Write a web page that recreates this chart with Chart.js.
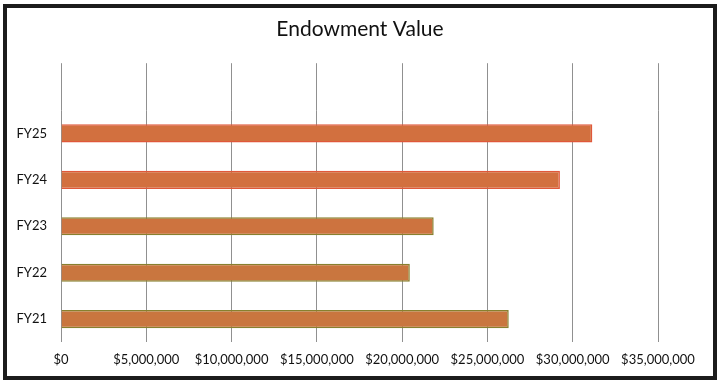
<!DOCTYPE html>
<html>
<head>
<meta charset="utf-8">
<script src="https://cdn.jsdelivr.net/npm/chart.js@4"></script>
<style>
  html, body { margin: 0; padding: 0; background: #fff; }
  #wrap { position: relative; width: 720px; height: 384px; overflow: hidden; }
  #frame { position: absolute; left: 3px; top: 4px; width: 706px; height: 368px; border: 4px solid #1c1c1c; box-sizing: content-box; }
  #chartCanvas { position: absolute; left: 0; top: 0; }
</style>
</head>
<body>
<div id="wrap">
  <div id="frame"></div>
  <canvas id="chartCanvas" width="720" height="384"></canvas>
</div>
<script>
// --- data ---
const years = ["FY25", "FY24", "FY23", "FY22", "FY21"];
const endowment = [31150000, 29250000, 21850000, 20450000, 26250000];
const axisMin = 0;
const axisMax = 35000000;
const axisStep = 5000000;

// bar colours (top two look redder at the edge, the rest olive-edged in the scan)
const barFill = ["#D2703F", "#D2703F", "#CD733F", "#C9763F", "#C9763F"];
const barEdge = ["#E0583A", "#E0583A", "#88802E", "#88802E", "#88802E"];

const canvas = document.getElementById("chartCanvas");
const font = "Lato, 'Open Sans', sans-serif";
const gridGray = "#909090";

const money = v => "$" + Number(v).toLocaleString("en-US");

new Chart(canvas, {
  type: "bar",
  data: {
    labels: years,
    datasets: [{
      label: "Endowment Value",
      data: endowment,
      backgroundColor: barFill,
      borderColor: barEdge,
      borderWidth: 1.5,
      categoryPercentage: 1,
      barPercentage: 0.39,
      xAxisID: "x"
    }]
  },
  options: {
    indexAxis: "y",
    responsive: false,
    animation: false,
    layout: { padding: { left: 0, right: 0, top: 0, bottom: 6 } },
    plugins: {
      legend: { display: false },
      tooltip: { enabled: false },
      title: {
        display: true,
        text: "Endowment Value",
        color: "#111",
        font: { family: font, size: 21, weight: "normal" },
        padding: { top: 17, bottom: 21 }
      }
    },
    scales: {
      x: {
        position: "bottom",
        min: axisMin,
        max: axisMax,
        grid: { color: gridGray, lineWidth: 1, drawTicks: false },
        border: { display: false },
        ticks: {
          stepSize: axisStep,
          padding: 10,
          color: "#111",
          font: { family: font, size: 13 },
          maxRotation: 0,
          callback: v => money(v)
        }
      },
      // only carries the grid lines up above the first bar
      xTop: {
        type: "linear",
        position: "top",
        min: axisMin,
        max: axisMax,
        grid: { color: gridGray, lineWidth: 1, drawOnChartArea: false, drawTicks: true, tickLength: 47 },
        border: { display: false },
        ticks: { display: false, stepSize: axisStep }
      },
      y: {
        grid: { display: false, drawTicks: false },
        border: { display: false },
        afterFit: s => { s.width = 61; },
        ticks: {
          padding: 14,
          color: "#111",
          font: { family: font, size: 13 }
        }
      },
      // empty margin on the right so the title stays centred on the page
      yRight: {
        type: "linear",
        position: "right",
        min: 0,
        max: 1,
        grid: { display: false, drawTicks: false },
        border: { display: false },
        ticks: { display: false },
        afterFit: s => { s.width = 62; }
      }
    }
  }
});
</script>
</body>
</html>
